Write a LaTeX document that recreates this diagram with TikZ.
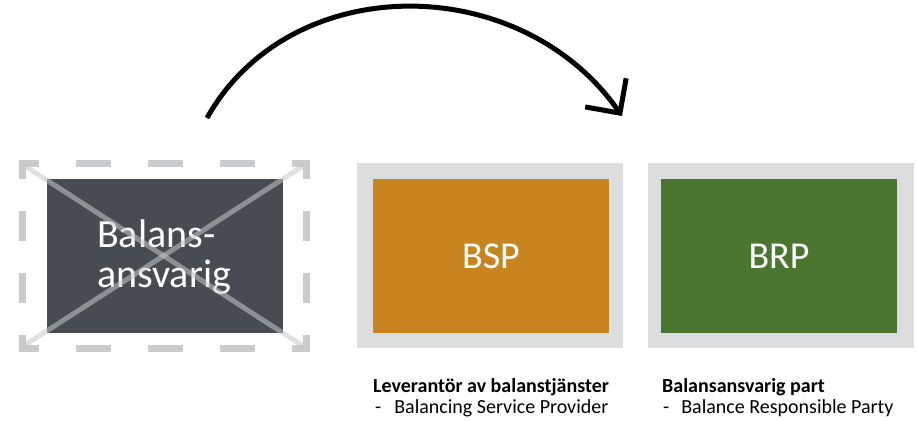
\documentclass[tikz,border=0pt]{standalone}
\usepackage{fontspec}
\setmainfont{Carlito}
\usetikzlibrary{arrows.meta}
\definecolor{darkbox}{HTML}{464C51}
\definecolor{orangebox}{HTML}{C8841F}
\definecolor{greenbox}{HTML}{4A7631}
\definecolor{framegray}{HTML}{DCDDDF}
\definecolor{dashgray}{HTML}{C9CBCC}
\definecolor{crossgray}{HTML}{C5C8CA}
\tikzset{
  frame/.style={fill=framegray, draw=none, minimum width=266pt, minimum height=185pt, inner sep=0pt},
  inbox/.style={draw=none, minimum width=236pt, minimum height=154pt, inner sep=0pt, text=white, font=\fontsize{38}{38}\selectfont},
  dashside/.style={draw=dashgray, line width=7pt, line cap=butt},
  crossline/.style={draw=crossgray, line width=5pt, opacity=0.55},
  boxtext/.style={anchor=base west, inner sep=0pt, text=white, font=\fontsize{40}{40}\selectfont},
  captitle/.style={anchor=base west, inner sep=0pt, font=\fontsize{20}{20}\selectfont\bfseries, text=black},
  capsub/.style={anchor=base west, inner sep=0pt, font=\fontsize{20}{20}\selectfont, text=black},
  arrowline/.style={draw=black, line width=5pt, -{Straight Barb[length=25pt,width=50pt]}},
}
\begin{document}
\begin{tikzpicture}[x=1pt,y=-1pt]
\useasboundingbox (0,0) rectangle (917,420);
% left dashed frame
\draw[dashside, dash pattern=on 35pt off 37pt, dash phase=15pt] (18.5,163) -- (309.5,163);
\draw[dashside, dash pattern=on 35pt off 37pt, dash phase=15pt] (18.5,348) -- (309.5,348);
\draw[dashside, dash pattern=on 30pt off 32pt, dash phase=11pt] (22,159.5) -- (22,351.5);
\draw[dashside, dash pattern=on 30pt off 32pt, dash phase=11pt] (306,159.5) -- (306,351.5);
\node[inbox, fill=darkbox] (bal) at (164.5,256) {};
\node[boxtext] (balA) at (97,247) {Balans-};
\node[boxtext] (balB) at (97,287) {ansvarig};
\draw[crossline] (25,166) -- (303,346);
\draw[crossline] (25,345) -- (303,166);
% BSP
\node[frame] (bspf) at (490,255.5) {};
\node[inbox, fill=orangebox] (bsp) at (491,256) {BSP};
% BRP
\node[frame] (brpf) at (780.5,255.5) {};
\node[inbox, fill=greenbox] (brp) at (779,256) {BRP};
% captions
\node[captitle] (bspt) at (373,392) {Leverantör av balanstjänster};
\node[capsub] (bsps) at (375,413) {-\hspace{13pt}Balancing Service Provider};
\node[captitle] (brpt) at (662,392) {Balansansvarig part};
\node[capsub] (brps) at (663,413) {-\hspace{12pt}Balance Responsible Party};
% arrow
\coordinate (as) at (207,118);
\coordinate (ae) at (622,116);
\draw[arrowline] (as) .. controls (290,-30) and (520,-30) .. (ae);
\end{tikzpicture}
\end{document}
